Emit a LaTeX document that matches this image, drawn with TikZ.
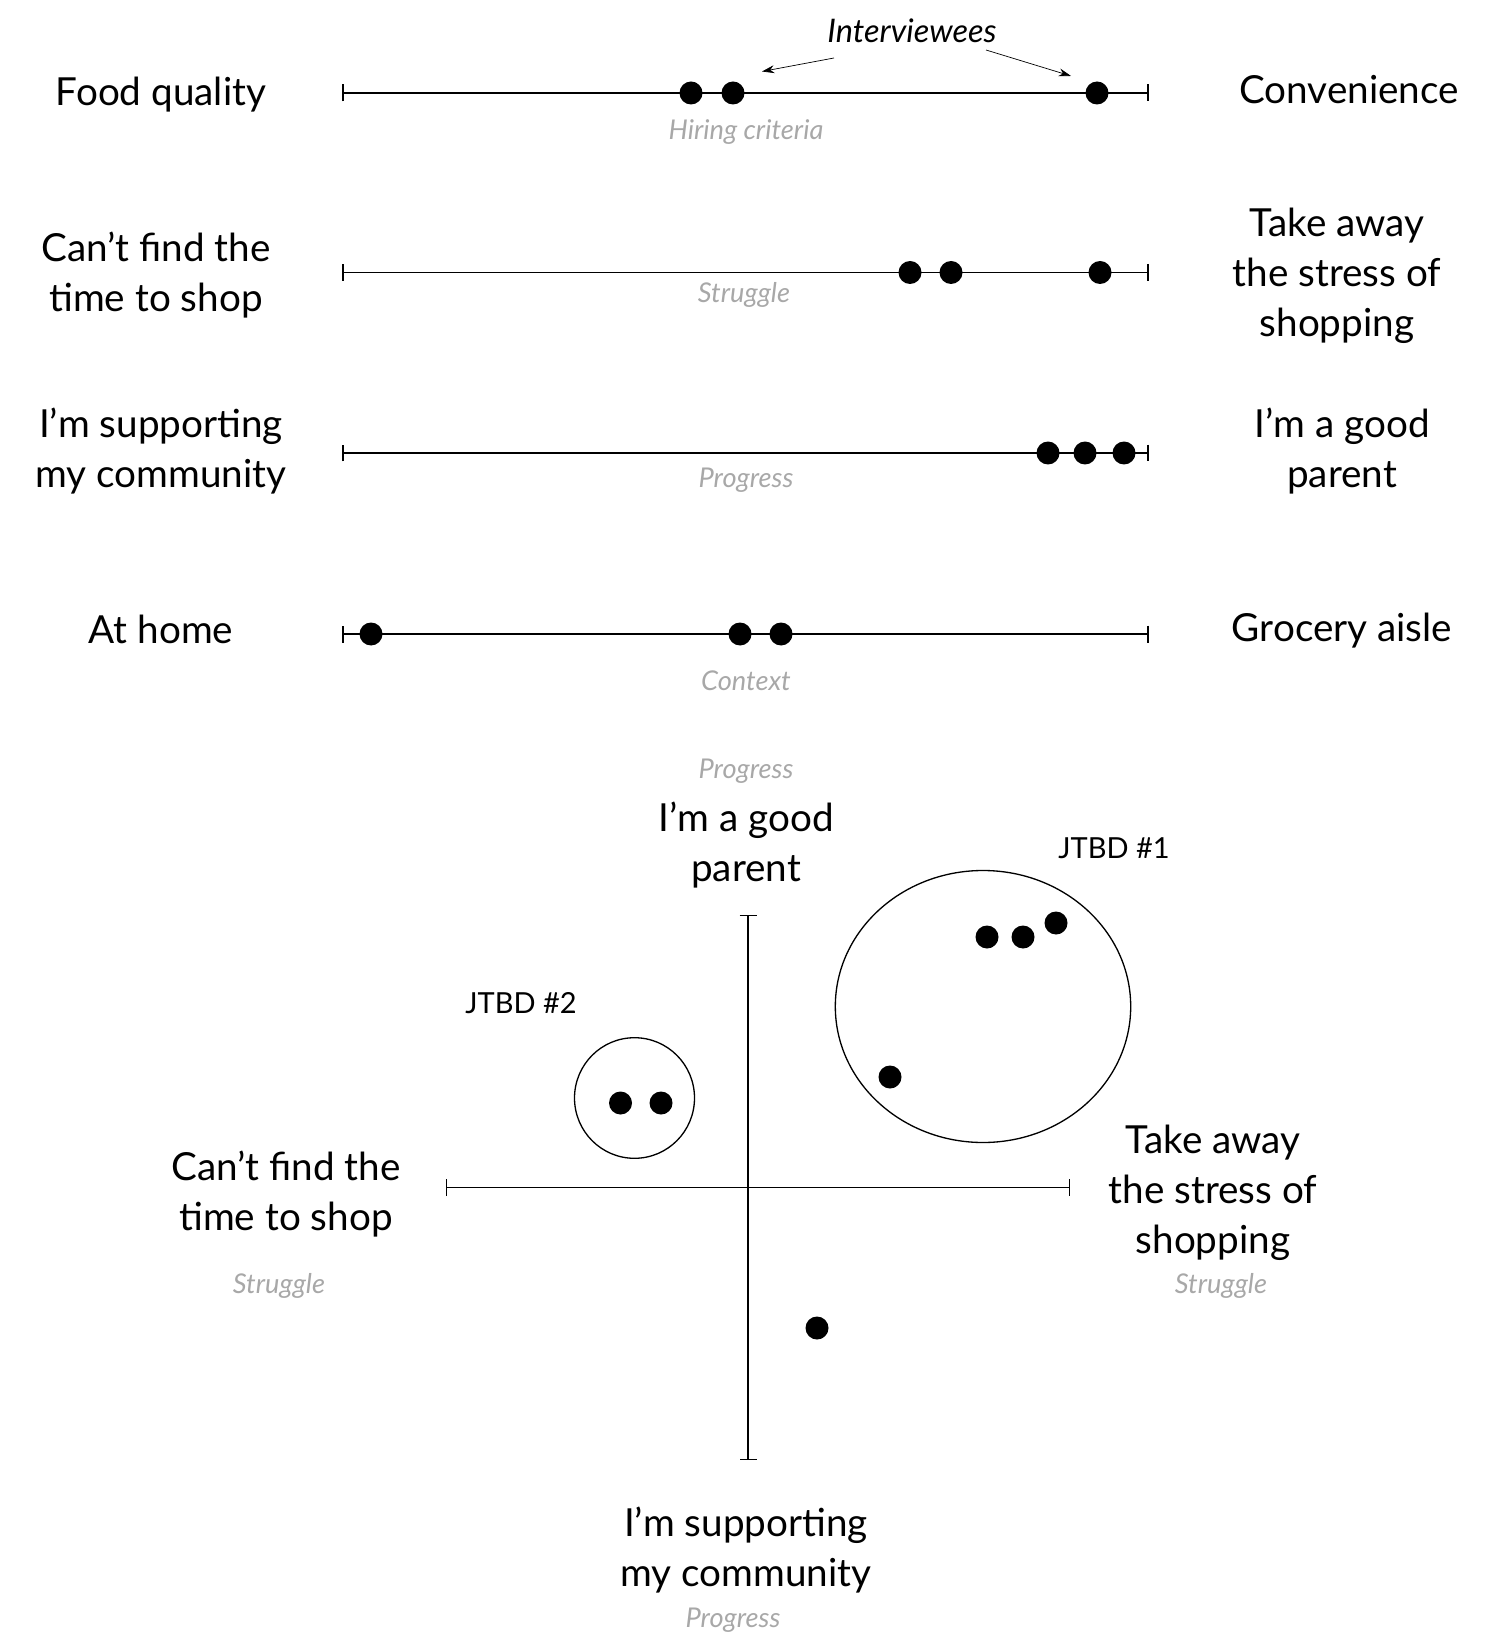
\documentclass[tikz,border=0pt]{standalone}
\usepackage{fontspec}
\setmainfont{Lato}
\usetikzlibrary{arrows.meta}
\definecolor{softgray}{gray}{0.66}

\tikzset{
  pole/.style={font=\fontsize{22}{28.6}\selectfont, align=center, inner sep=0pt},
  axisname/.style={font=\fontsize{15.5}{18}\selectfont\itshape, text=softgray, inner sep=0pt},
  tag/.style={font=\fontsize{16.5}{19}\selectfont, inner sep=0pt},
  dot/.style={circle, fill=black, inner sep=0pt, minimum size=0.46cm},
  scaleline/.style={line width=1.1pt, {Bar[width=0.34cm]}-{Bar[width=0.34cm]}},
  quadline/.style={line width=0.8pt, {Bar[width=0.34cm]}-{Bar[width=0.34cm]}},
}

\begin{document}
\begin{tikzpicture}[x=0.02cm, y=-0.02cm]

\useasboundingbox (0,0) rectangle (1500,1648);

% scale 1
\coordinate (hA) at (342,93);
\coordinate (hB) at (1149,93);
\draw[scaleline] (hA) -- (hB);
\node[dot] (h1) at (691,93) {};
\node[dot] (h2) at (733,93) {};
\node[dot] (h3) at (1097,93) {};
\node[pole] (foodq) at (161,95) {Food quality};
\node[pole] (conv) at (1349,90) {Convenience};
\node[axisname] (hiring) at (746,132) {Hiring criteria};
\node[tag, font=\fontsize{18.5}{21}\selectfont\itshape] (ivw) at (912,31) {Interviewees};
\coordinate (ivwA) at (834,58);
\coordinate (ivwB) at (986,50);
\coordinate (tipA) at (762,71.5);
\coordinate (tipB) at (1071,76);
\draw[-{Stealth[length=7pt,width=4.5pt]}] (ivwA) -- (tipA);
\draw[-{Stealth[length=7pt,width=4.5pt]}] (ivwB) -- (tipB);

% scale 2
\coordinate (sA) at (342,272.5);
\coordinate (sB) at (1149,272.5);
\draw[scaleline] (sA) -- (sB);
\node[dot] (s1) at (910,272.5) {};
\node[dot] (s2) at (951,272.5) {};
\node[dot] (s3) at (1100,272.5) {};
\node[pole] (notime) at (156,275) {Can’t find the\\time to shop};
\node[pole] (nostress) at (1337,276) {Take away\\the stress of\\shopping};
\node[axisname] (struggle) at (744,295) {Struggle};

% scale 3
\coordinate (pA) at (342,453);
\coordinate (pB) at (1149,453);
\draw[scaleline] (pA) -- (pB);
\node[dot] (p1) at (1048,453) {};
\node[dot] (p2) at (1085,453) {};
\node[dot] (p3) at (1124,453) {};
\node[pole] (community) at (161,451) {I’m supporting\\my community};
\node[pole] (parent) at (1342,451) {I’m a good\\parent};
\node[axisname] (progress) at (746,480) {Progress};

% scale 4
\coordinate (cA) at (342,634);
\coordinate (cB) at (1149,634);
\draw[scaleline] (cA) -- (cB);
\node[dot] (c1) at (371,634) {};
\node[dot] (c2) at (740,634) {};
\node[dot] (c3) at (781,634) {};
\node[pole] (home) at (161,629) {At home};
\node[pole] (aisle) at (1342,631) {Grocery aisle};
\node[axisname] (context) at (746,681) {Context};

% two axes
\coordinate (top) at (748,915);
\coordinate (bot) at (748,1460);
\coordinate (lft) at (446,1187.5);
\coordinate (rgt) at (1070,1187.5);
\draw[quadline] (top) -- (bot);
\draw[quadline] (lft) -- (rgt);

\node[axisname] (progU) at (746,771) {Progress};
\node[pole] (parentU) at (746,845) {I’m a good\\parent};
\node[pole] (communityD) at (746,1550) {I’m supporting\\my community};
\node[axisname] (progD) at (733,1620) {Progress};
\node[pole] (notimeL) at (286,1194) {Can’t find the\\time to shop};
\node[axisname] (strugL) at (279,1286) {Struggle};
\node[pole] (nostressR) at (1213,1193) {Take away\\the stress of\\shopping};
\node[axisname] (strugR) at (1221,1286) {Struggle};

% jobs
\draw[line width=0.75pt] (983,1006.5) ellipse [x radius=147.7, y radius=136];
\draw[line width=0.75pt] (634.5,1098) ellipse [x radius=60, y radius=60.3];
\node[tag] (job1) at (1114,848) {JTBD \#1};
\node[tag] (job2) at (521,1003) {JTBD \#2};

\node[dot] (q1) at (987,937) {};
\node[dot] (q2) at (1023,937) {};
\node[dot] (q3) at (1056,923) {};
\node[dot] (q4) at (890,1077) {};
\node[dot] (q5) at (620.5,1103) {};
\node[dot] (q6) at (661,1103) {};
\node[dot] (q7) at (817,1328) {};

\end{tikzpicture}
\end{document}
